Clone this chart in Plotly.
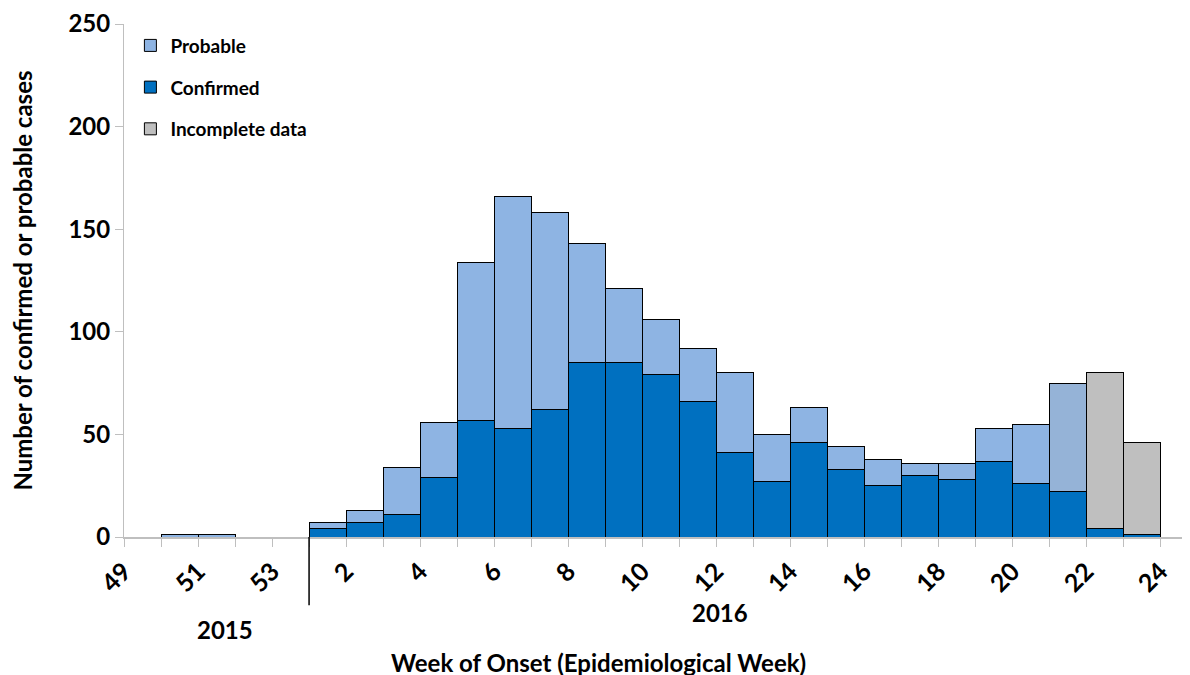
import plotly.graph_objects as go

week_labels = ["49", "50", "51", "52", "53", "1", "2", "3", "4", "5", "6", "7", "8", "9",
               "10", "11", "12", "13", "14", "15", "16", "17", "18", "19", "20", "21", "22", "23"]
confirmed = [0, 0, 0, 0, 0, 4, 7, 11, 29, 57, 53, 62, 85, 85, 79, 66, 41, 27, 46, 33, 25, 30, 28, 37, 26, 22, 4, 1]
probable = [0, 1, 1, 0, 0, 3, 6, 23, 27, 77, 113, 96, 58, 36, 27, 26, 39, 23, 17, 11, 13, 6, 8, 16, 29, 53, 0, 0]
incomplete = [0] * 26 + [76, 45]
tick_labels = ["49", "", "51", "", "53", "", "2", "", "4", "", "6", "", "8", "", "10", "", "12", "",
               "14", "", "16", "", "18", "", "20", "", "22", "", "24"]

xpos = [i + 0.5 for i in range(len(week_labels))]
prob_colors = ["#8EB4E3"] * len(week_labels)
prob_colors[25] = "#95B3D7"

FONT = "Lato"
edge = dict(color="#000000", width=1)

def bf(size):
    return dict(size=size, family=FONT, weight="bold", color="black")

fig = go.Figure()
fig.add_trace(go.Bar(x=xpos, y=confirmed, width=1, name="Confirmed", legendrank=2,
                     marker=dict(color="#0070C0", line=edge), legendgroup="b",
                     customdata=week_labels))
fig.add_trace(go.Bar(x=xpos, y=probable, width=1, name="Probable", legendrank=1,
                     marker=dict(color=prob_colors, line=edge), legendgroup="a",
                     customdata=week_labels))
fig.add_trace(go.Bar(x=xpos, y=incomplete, width=1, name="Incomplete data", legendrank=3,
                     marker=dict(color="#BFBFBF", line=edge), legendgroup="c",
                     customdata=week_labels))

fig.update_layout(
    barmode="stack",
    width=1190, height=675,
    margin=dict(l=116, r=8, t=16, b=146),
    plot_bgcolor="white", paper_bgcolor="white",
    font=dict(family=FONT, color="black"),
    showlegend=True,
    legend=dict(x=0.006, y=0.995, xanchor="left", yanchor="top", traceorder="grouped",
                font=bf(19), tracegroupgap=14, bgcolor="rgba(0,0,0,0)", itemwidth=30),
    xaxis=dict(range=[0, 28.8], tickmode="array", tickvals=list(range(29)), ticktext=tick_labels,
               tickangle=-45, tickfont=bf(25), ticks="outside", ticklen=8, automargin=False,
               tickcolor="#BFBFBF", showline=True, linecolor="#BFBFBF", linewidth=2,
               showgrid=False, zeroline=False),
    yaxis=dict(range=[0, 250], tickvals=[0, 50, 100, 150, 200, 250], tickfont=bf(24),
               ticks="outside", ticklen=8, tickcolor="#BFBFBF", showline=True, linecolor="#BFBFBF",
               linewidth=1, showgrid=False, zeroline=False, automargin=False,
               title=dict(text="Number of confirmed or probable cases", font=bf(24), standoff=35)),
)

fig.add_shape(type="line", xref="x", yref="paper", x0=5, x1=5, y0=0, y1=-0.133,
              line=dict(color="black", width=1.5))
fig.add_annotation(x=2.73, y=-0.212, xref="x", yref="paper", text="2015", showarrow=False,
                   font=bf(24))
fig.add_annotation(x=16.1, y=-0.179, xref="x", yref="paper", text="2016", showarrow=False,
                   font=bf(24))
fig.add_annotation(x=12.83, y=-0.277, xref="x", yref="paper", text="Week of Onset (Epidemiological Week)",
                   showarrow=False, font=bf(24))

fig.write_html("out.html")
